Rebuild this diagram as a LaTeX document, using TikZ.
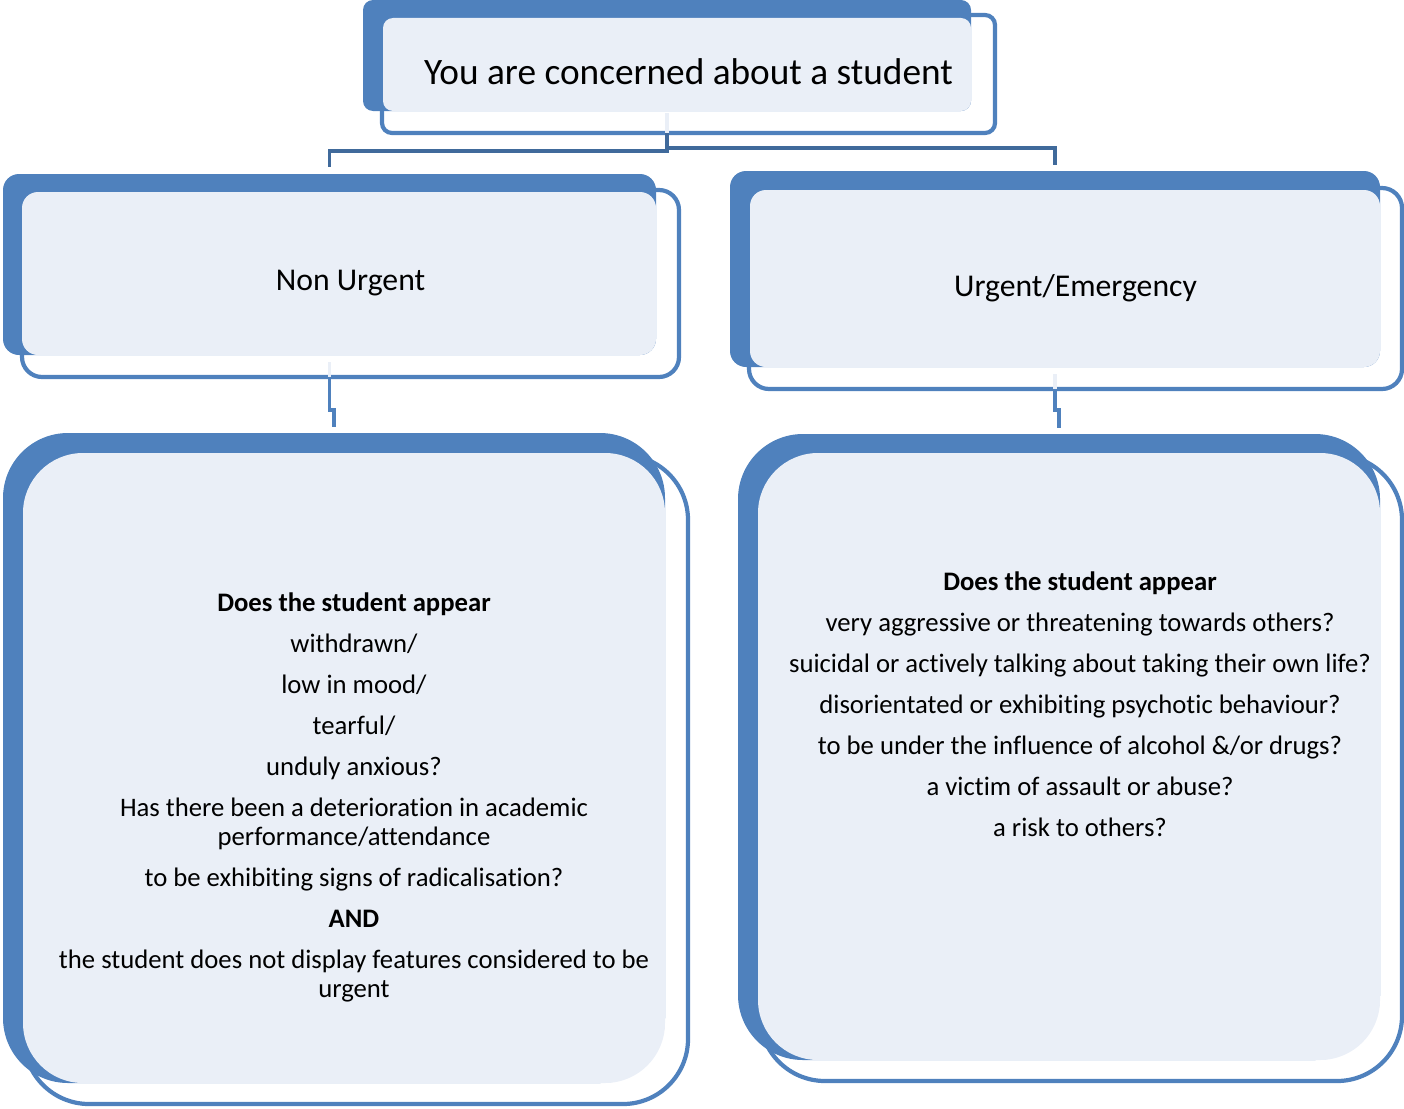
\documentclass[tikz,border=0pt]{standalone}
\usepackage{fontspec}
\setmainfont{Carlito}[Ligatures=NoCommon]
\usetikzlibrary{calc}
\definecolor{accent}{RGB}{79,129,189}
\definecolor{pale}{RGB}{234,239,247}
\definecolor{link}{RGB}{64,106,155}

\begin{document}
\begin{tikzpicture}[x=1pt,y=-1pt,line width=4pt,
    back/.style={fill=accent,rounded corners=#1,inner sep=0pt,outer sep=0pt},
    rim/.style={draw=accent,line width=4.2pt,rounded corners=#1,inner sep=0pt,outer sep=0pt},
    face/.style={fill=pale,rounded corners=#1,inner sep=0pt,outer sep=0pt},
    elbow/.style={draw=#1,line width=3.8pt},
    body/.style={align=center,font=\fontsize{26.7}{29}\selectfont}]
  \useasboundingbox (0,0) rectangle (1404,1108);

  \node[back=10, minimum width=608pt, minimum height=111pt] (Tb) at (667,55.5) {};
  \node[rim=10, minimum width=613pt, minimum height=118pt] (To) at (688.5,74) {};
  \node[face=10, minimum width=588pt, minimum height=93pt] (T) at (677,64.5) {};
  \node[font=\fontsize{37.3}{44}\selectfont] (Tt) at ($(To)+(0,-2)$) {You are concerned about a student};

  \node[back=16, minimum width=653pt, minimum height=181pt] (NUb) at (329.5,264.5) {};
  \node[rim=20, minimum width=657pt, minimum height=187pt] (NUo) at (350.5,283.5) {};
  \node[face=16, minimum width=634pt, minimum height=163pt] (NU) at (339,273.5) {};
  \node[font=\fontsize{31.7}{38}\selectfont] (NUt) at (NUo) {Non Urgent};

  \node[back=16, minimum width=650pt, minimum height=196pt] (UEb) at (1055,269) {};
  \node[rim=20, minimum width=653pt, minimum height=201pt] (UEo) at (1075.5,288.5) {};
  \node[face=16, minimum width=630pt, minimum height=177pt] (UE) at (1065,278.5) {};
  \node[font=\fontsize{31.7}{38}\selectfont] (UEt) at (UEo) {Urgent/Emergency};

  \node[back=65, minimum width=662pt, minimum height=650pt] (NBb) at (334,758) {};
  \node[rim=65, minimum width=664pt, minimum height=649pt] (NBo) at (356,779.5) {};
  \node[face=60, minimum width=642pt, minimum height=630pt] (NB) at (344,768) {};
  \node[body] (NBt) at (354,797) {\textbf{Does the student appear}\\[12pt]
    withdrawn/\\[12pt] low in mood/\\[12pt] tearful/\\[12pt] unduly anxious?\\[12pt]
    Has there been a deterioration in academic\\ performance/attendance\\[12pt]
    to be exhibiting signs of radicalisation?\\[12pt] \textbf{AND}\\[12pt]
    the student does not display features considered to be\\ urgent};

  \node[back=65, minimum width=642pt, minimum height=626pt] (UBb) at (1059,747) {};
  \node[rim=65, minimum width=642pt, minimum height=626pt] (UBo) at (1081,768) {};
  \node[face=60, minimum width=622pt, minimum height=607pt] (UB) at (1069,756.5) {};
  \node[body] (UBt) at (1080,704.5) {\textbf{Does the student appear}\\[12pt]
    very aggressive or threatening towards others?\\[12pt]
    suicidal or actively talking about taking their own life?\\[12pt]
    disorientated or exhibiting psychotic behaviour?\\[12pt]
    to be under the influence of alcohol \&/or drugs?\\[12pt]
    a victim of assault or abuse?\\[12pt] a risk to others?};

  \draw[elbow=pale] ($(Tb.south)+(0,2)$) -- (Tb.south |- To.south);
  \draw[elbow=link, shorten >=7pt] (Tb.south |- To.south) -- ++(0,18) -| (NUb.north);
  \draw[elbow=link, shorten >=6pt] ($(Tb.south |- To.south)+(0,15)$) -| (UEb.north);
  \draw[elbow=pale] ($(NUb.south)+(0,7)$) -- (NUb.south |- NUo.south);
  \draw[elbow=accent, shorten >=6pt] (NUb.south |- NUo.south) -- ++(0,33) -| (NBb.north);
  \draw[elbow=pale] ($(UEb.south)+(0,7)$) -- (UEb.south |- UEo.south);
  \draw[elbow=accent, shorten >=6pt] (UEb.south |- UEo.south) -- ++(0,21) -| (UBb.north);
\end{tikzpicture}
\end{document}
